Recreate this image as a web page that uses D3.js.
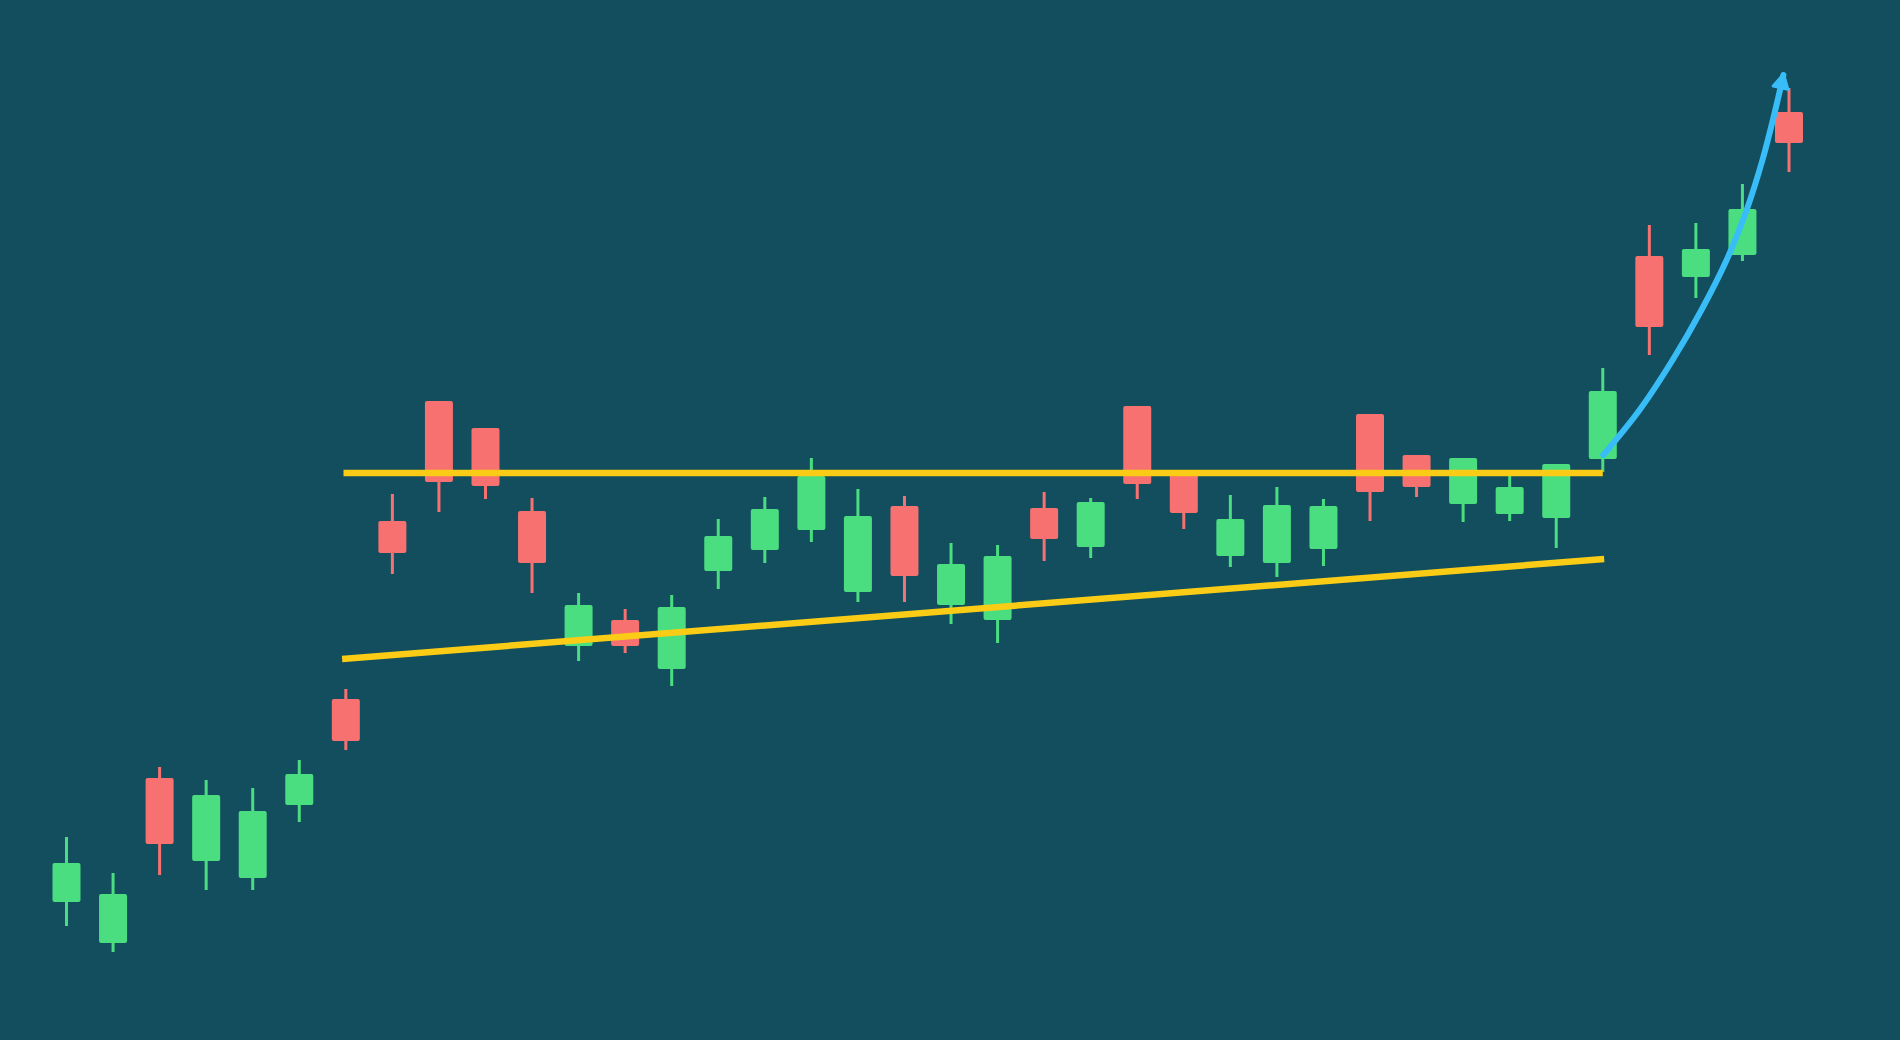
<!DOCTYPE html>
<html>
<head>
<meta charset="utf-8">
<script src="https://cdn.jsdelivr.net/npm/d3@7"></script>
<style>
  html, body { margin: 0; padding: 0; background: #124e5e; overflow: hidden; }
</style>
</head>
<body>
<script>
let w = 1900;
let h = 1040;

// candle values (price units)
let open  = [13.8,  9.7, 26.2, 17.9, 16.2, 23.5, 34.1, 51.9, 63.9, 61.2, 52.9, 39.4, 42.0, 37.1, 46.9, 49.0, 51.0, 44.8, 53.4,
             43.5, 42.0, 53.2, 49.3, 63.4, 57.0, 48.4, 47.7, 49.1, 62.6, 58.5, 53.6, 52.6, 52.2, 58.1, 78.4, 76.3, 78.5, 92.8];
let close = [17.7, 14.6, 19.6, 24.5, 22.9, 26.6, 29.9, 48.7, 55.8, 55.4, 47.7, 43.5, 39.4, 43.3, 50.4, 53.1, 56.4, 52.4, 46.4,
             47.6, 48.4, 50.1, 53.8, 55.6, 52.7, 52.1, 53.5, 53.4, 54.8, 55.3, 58.2, 55.3, 57.6, 64.9, 71.3, 79.1, 83.1, 89.7];
let high  = [20.3, 16.7, 27.3, 26.0, 25.2, 28.0, 35.1, 54.6, 63.9, 61.2, 54.2, 44.7, 43.1, 44.5, 52.1, 54.3, 58.2, 55.1, 54.4,
             49.7, 49.5, 54.8, 54.2, 63.4, 57.0, 54.5, 55.3, 54.1, 62.6, 58.5, 58.2, 56.4, 57.6, 67.2, 81.5, 81.7, 85.6, 95.2];
let low   = [11.4,  8.8, 16.5, 15.0, 15.0, 21.8, 29.0, 46.6, 52.8, 54.1, 44.7, 37.9, 38.7, 35.4, 45.1, 47.7, 49.8, 43.8, 43.8,
             41.6, 39.7, 47.9, 48.2, 54.1, 51.1, 47.3, 46.3, 47.4, 51.9, 54.3, 51.8, 51.9, 49.2, 56.8, 68.5, 74.2, 77.9, 86.8];

// trend lines as [candle index, price]
let resistance = [[5.95, 56.7], [33.0, 56.7]];
let support = [[5.92, 38.1], [33.03, 48.1]];
let breakout = [[33.01, 58.5], [33.79, 63.0], [34.50, 68.0], [35.12, 73.0], [35.66, 78.0],
                [36.09, 83.0], [36.43, 88.0], [36.69, 92.7], [36.88, 96.5]];

let dataset = open.map((o, i) => {
  return { i: i, open: o, close: close[i], high: high[i], low: low[i] };
});

let xScale = d3.scaleLinear()
  .domain([0, open.length - 1])
  .range([66.5, 1789]);
let yScale = d3.scaleLinear()
  .domain([0, 104])
  .range([h, 0]);

let bodyW = 28;
let up = '#4ade80';
let down = '#f87171';
let colour = (d) => { return d.close >= d.open ? up : down; };

let svg = d3.select('body')
  .append('svg')
  .attr('width', w)
  .attr('height', h);

svg.append('rect')
  .attr('width', w)
  .attr('height', h)
  .attr('fill', '#124e5e');

svg.append('defs')
  .append('marker')
  .attr('id', 'head')
  .attr('markerUnits', 'userSpaceOnUse')
  .attr('viewBox', '-20 -12 24 24')
  .attr('refX', 0)
  .attr('refY', 0)
  .attr('markerWidth', 24)
  .attr('markerHeight', 24)
  .attr('orient', 'auto')
  .append('path')
  .attr('d', 'M1,0 L-13,-7.5 L-13,7.5 Z')
  .attr('fill', '#38bdf8')
  .attr('stroke', '#38bdf8')
  .attr('stroke-width', 3)
  .attr('stroke-linejoin', 'round');

let candles = svg.append('g')
  .selectAll('g')
  .data(dataset)
  .enter()
  .append('g');

// wicks
candles.append('line')
  .attr('x1', (d) => { return xScale(d.i); })
  .attr('x2', (d) => { return xScale(d.i); })
  .attr('y1', (d) => { return yScale(d.high); })
  .attr('y2', (d) => { return yScale(d.low); })
  .attr('stroke', colour)
  .attr('stroke-width', 3);

// bodies
candles.append('rect')
  .attr('x', (d) => { return xScale(d.i) - bodyW / 2; })
  .attr('y', (d) => { return yScale(Math.max(d.open, d.close)); })
  .attr('width', bodyW)
  .attr('height', (d) => { return Math.abs(yScale(d.open) - yScale(d.close)); })
  .attr('rx', 2)
  .attr('fill', colour);

let line = d3.line()
  .x((d) => { return xScale(d[0]); })
  .y((d) => { return yScale(d[1]); });

svg.selectAll('.trend')
  .data([support, resistance])
  .enter()
  .append('path')
  .attr('class', 'trend')
  .attr('d', line)
  .attr('fill', 'none')
  .attr('stroke', '#facc15')
  .attr('stroke-width', 6.5);

svg.append('path')
  .attr('d', line.curve(d3.curveCatmullRom)(breakout))
  .attr('fill', 'none')
  .attr('stroke', '#38bdf8')
  .attr('stroke-width', 6)
  .attr('stroke-linecap', 'round')
  .attr('marker-end', 'url(#head)');
</script>
</body>
</html>
